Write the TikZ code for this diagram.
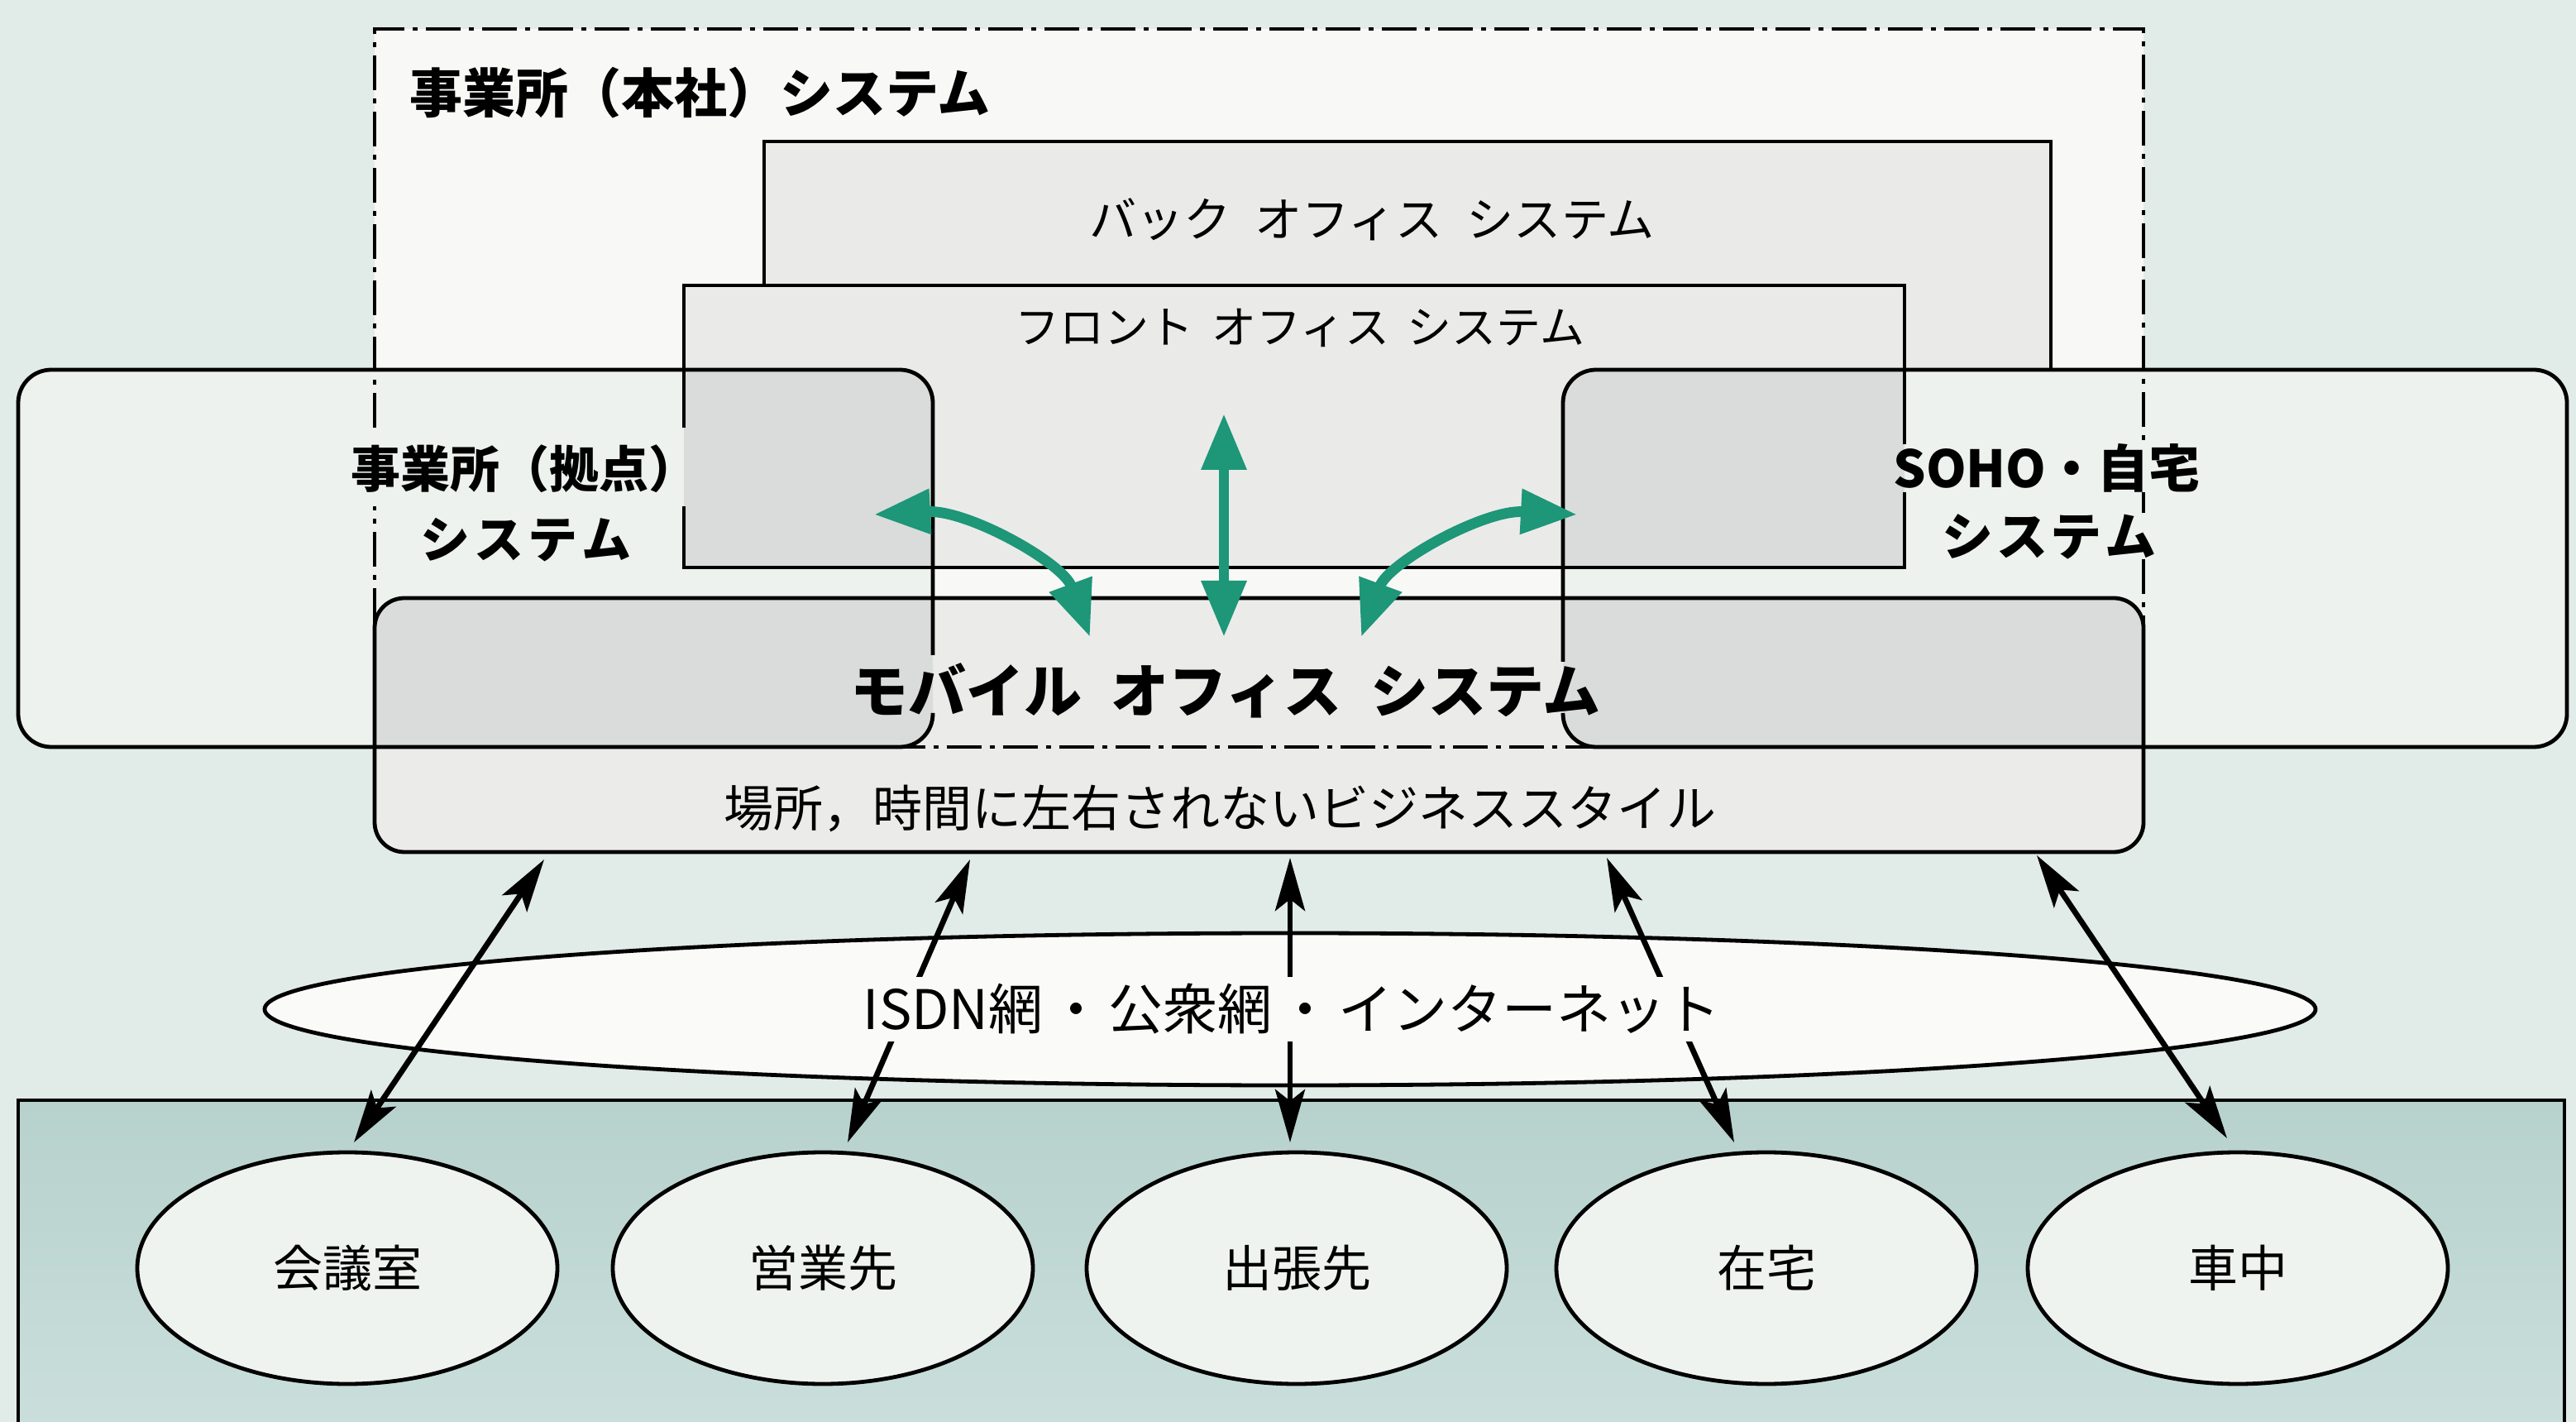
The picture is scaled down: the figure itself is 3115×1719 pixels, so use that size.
\documentclass[tikz,border=0pt]{standalone}
\usepackage{fontspec}
\setmainfont{Noto Sans CJK JP}
\usetikzlibrary{arrows.meta,shapes.geometric}
\definecolor{bgc}{HTML}{E1EBE7}
\definecolor{hqwhite}{HTML}{F8F9F7}
\definecolor{officec}{HTML}{EAEBE9}
\definecolor{sidec}{HTML}{EDF2EF}
\definecolor{mobilec}{HTML}{EBECEA}
\definecolor{overlapc}{HTML}{D9DCDA}
\definecolor{tealtop}{HTML}{B7D1CD}
\definecolor{tealbot}{HTML}{CADFDB}
\definecolor{circfill}{HTML}{EEF3F0}
\definecolor{ellfill}{HTML}{FAFBF9}
\definecolor{grn}{HTML}{1E9678}
\newcommand{\fsz}[1]{\fontsize{#1}{#1}\selectfont}
\begin{document}
\begin{tikzpicture}[x=0.25pt,y=-0.25pt,
  outl/.style={draw=black,line width=1.2pt},
  hqline/.style={draw=black,line width=1.1pt,dash pattern=on 10.5pt off 2.5pt on 1.5pt off 2.5pt},
  place/.style={ellipse,draw=black,line width=1.2pt,fill=circfill,minimum width=127pt,minimum height=70pt,inner sep=0pt,font=\fsz{15pt}},
  barrow/.style={draw=black,line width=1.7pt,>={Stealth[length=16pt,width=9pt,inset=3.5pt]},<->},
  garrow/.style={draw=grn,line width=3.2pt,>={Triangle[length=17pt,width=13pt]},<->},
  lbl/.style={inner sep=0pt}]
\useasboundingbox (0,0) rectangle (3115,1719);
\fill[bgc] (0,0) rectangle (3115,1719);
% bottom region
\shade[top color=tealtop,bottom color=tealbot] (22,1330) rectangle (3101,1730);
\draw[outl] (22,1730) -- (22,1330) -- (3101,1330) -- (3101,1730);
% fills
\fill[hqwhite] (453,35) rectangle (2592,903);
\fill[officec] (924,171) rectangle (2480,447);
\fill[officec] (827,345) rectangle (2303,686);
\fill[sidec,rounded corners=10pt] (22,447) rectangle (1128,903);
\fill[sidec,rounded corners=10pt] (1890,447) rectangle (3104,903);
\fill[mobilec,rounded corners=9pt] (453,723) rectangle (2592,1030);
\begin{scope}
  \clip[rounded corners=10pt] (22,447) rectangle (1128,903);
  \fill[overlapc] (827,345) rectangle (2303,686);
  \fill[overlapc,rounded corners=9pt] (453,723) rectangle (2592,1030);
\end{scope}
\begin{scope}
  \clip[rounded corners=10pt] (1890,447) rectangle (3104,903);
  \fill[overlapc] (827,345) rectangle (2303,686);
  \fill[overlapc,rounded corners=9pt] (453,723) rectangle (2592,1030);
\end{scope}
% outlines
\draw[hqline] (453,517) -- (453,35) -- (2592,35) -- (2592,537)
  (2592,595) -- (2592,620) (2592,676) -- (2592,903) -- (453,903) -- (453,612);
\draw[outl] (924,345) -- (924,171) -- (2480,171) -- (2480,447);
\draw[outl] (827,517) -- (827,345) -- (2303,345) -- (2303,537)
  (2303,595) -- (2303,686) -- (827,686) -- (827,612);
\draw[outl,rounded corners=10pt] (1128,792) -- (1128,447) -- (22,447) -- (22,903) -- (1128,903) -- (1128,862);
\draw[outl,rounded corners=10pt] (1890,800) -- (1890,447) -- (3104,447) -- (3104,903) -- (1890,903) -- (1890,862);
\draw[outl,rounded corners=9pt] (453,723) rectangle (2592,1030);
% network ellipse and places
\node[ellipse,draw=black,line width=1.2pt,fill=ellfill,minimum width=620pt,minimum height=46pt,inner sep=0pt] (net) at (1560,1220) {};
\node[place] (c1) at (420,1533) {会議室};
\node[place] (c2) at (995,1533) {営業先};
\node[place] (c3) at (1568,1533) {出張先};
\node[place] (c4) at (2136,1533) {在宅};
\node[place] (c5) at (2706,1533) {車中};
% black connectors
\coordinate (a1t) at (658,1039); \coordinate (a1b) at (428,1381);
\coordinate (a2t) at (1173,1039); \coordinate (a2b) at (1025,1381);
\coordinate (a3t) at (1560,1037); \coordinate (a3b) at (1560,1381);
\coordinate (a4t) at (1943,1037); \coordinate (a4b) at (2097,1381);
\coordinate (a5t) at (2463,1034); \coordinate (a5b) at (2693,1376);
\draw[barrow] (a1t) -- (a1b);
\draw[barrow] (a2t) -- (a2b);
\draw[barrow] (a3t) -- (a3b);
\draw[barrow] (a4t) -- (a4b);
\draw[barrow] (a5t) -- (a5b);
\node[fill=ellfill,inner sep=2pt,font=\fsz{16.5pt}] (nettext) at (1562,1220) {ISDN網\hspace{0.1em}・\hspace{0.1em}公衆網\hspace{0.1em}・\hspace{0.1em}インターネット};
% labels
\node[lbl,anchor=west,font=\bfseries\fsz{16pt}] (hqlabel) at (495,112) {事業所（本社）システム};
\node[lbl,font=\fsz{14.3pt}] (backlabel) at (1659,265) {バック\hspace{0.5em}オフィス\hspace{0.5em}システム};
\node[lbl,font=\fsz{13.5pt}] (frontlabel) at (1572,396) {フロント\hspace{0.4em}オフィス\hspace{0.4em}システム};
\node[lbl,font=\bfseries\fsz{15pt}] (branch1) at (634,567) {事業所（拠点）};
\node[lbl,font=\bfseries\fsz{15pt}] (branch2) at (636,653) {シ\hspace{0.08em}ス\hspace{0.08em}テ\hspace{0.08em}ム};
\node[lbl,font=\bfseries\fsz{15.5pt}] (soho1) at (2475,566) {SOHO・自宅};
\node[lbl,font=\bfseries\fsz{15.5pt}] (soho2) at (2478,649) {シ\hspace{0.06em}ス\hspace{0.06em}テ\hspace{0.06em}ム};
\node[lbl,font=\bfseries\fsz{17.5pt}] (mobilelabel) at (1482,835) {モバイル\hspace{0.5em}オフィス\hspace{0.5em}システム};
\node[lbl,font=\fsz{15pt}] (stylelabel) at (1475,977) {場所，時間に左右されないビジネススタイル};
% green connectors
\coordinate (gl1) at (1057,622); \coordinate (gl2) at (1318,770);
\coordinate (gc1) at (1480,500); \coordinate (gc2) at (1480,770);
\coordinate (gr1) at (1907,622); \coordinate (gr2) at (1646,770);
\draw[garrow] (gl1) .. controls (1170,616) and (1285,680) .. (gl2);
\draw[garrow] (gc1) -- (gc2);
\draw[garrow] (gr1) .. controls (1794,616) and (1679,680) .. (gr2);
\end{tikzpicture}
\end{document}
